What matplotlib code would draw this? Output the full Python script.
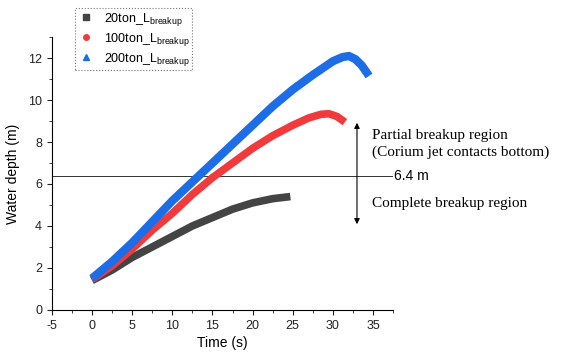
import matplotlib
matplotlib.use('Agg')
import matplotlib.pyplot as plt
from matplotlib.lines import Line2D
from matplotlib.ticker import MultipleLocator

# values
t_20 = [0, 2.5, 5, 7.5, 10, 12.5, 15, 17.5, 20, 22.5, 24.7]
d_20 = [1.4, 1.9, 2.5, 3.0, 3.5, 4.0, 4.4, 4.8, 5.1, 5.3, 5.4]

t_100 = [0, 2.5, 5, 7.5, 10, 12.5, 15, 17.5, 20, 22.5, 25, 27, 28.5, 29.5, 30.5, 31.5]
d_100 = [1.45, 2.1, 2.9, 3.8, 4.6, 5.5, 6.3, 7.0, 7.7, 8.3, 8.8, 9.15, 9.32, 9.35, 9.22, 8.95]

t_200 = [0, 2.5, 5, 7.5, 10, 12.5, 15, 17.5, 20, 22.5, 25, 27.5, 30, 31.2, 32, 32.8, 33.6, 34.5]
d_200 = [1.5, 2.3, 3.2, 4.2, 5.2, 6.1, 7.0, 7.9, 8.8, 9.7, 10.5, 11.2, 11.85, 12.05, 12.1, 11.95, 11.65, 11.15]

labels = ['20ton_L$_{\\mathregular{breakup}}$', '100ton_L$_{\\mathregular{breakup}}$',
          '200ton_L$_{\\mathregular{breakup}}$']
limit = 6.4

plt.rcParams['font.family'] = 'Liberation Sans'
plt.rcParams['axes.unicode_minus'] = False

fig = plt.figure(figsize=(5.64, 3.57), dpi=100)
ax = fig.add_axes([0.092, 0.132, 0.605, 0.764])

ax.axhline(limit, color='#333333', lw=0.7, zorder=1)
ax.plot(t_20, d_20, color='#444444', lw=5.5, solid_capstyle='butt', zorder=2)
ax.plot(t_100, d_100, color='#f03a3c', lw=5.5, solid_capstyle='butt', zorder=3)
ax.plot(t_200, d_200, color='#1c6de6', lw=6, solid_capstyle='butt', zorder=4)

ax.annotate('', xy=(33, 3.95), xytext=(33, 9.05),
            arrowprops=dict(arrowstyle='<|-|>', color='black', lw=0.8,
                            mutation_scale=8))
serif = 'Liberation Serif'
ax.text(34.9, 8.33, 'Partial breakup region', family=serif, fontsize=11, va='center')
ax.text(34.9, 7.5, '(Corium jet contacts bottom)', family=serif, fontsize=11, va='center')
ax.text(37.6, limit, '6.4 m', fontsize=10, va='center')
ax.text(34.9, 5.05, 'Complete breakup region', family=serif, fontsize=11, va='center')

ax.set_xlim(-5, 37.5)
ax.set_ylim(0, 13)
ax.xaxis.set_major_locator(MultipleLocator(5))
ax.xaxis.set_minor_locator(MultipleLocator(2.5))
ax.yaxis.set_major_locator(MultipleLocator(2))
ax.yaxis.set_minor_locator(MultipleLocator(1))
ax.spines['top'].set_visible(False)
ax.spines['right'].set_visible(False)
ax.tick_params(which='both', direction='out', labelsize=9, colors='#222222')
ax.tick_params(which='major', length=3.5)
ax.tick_params(which='minor', length=2)
ax.set_xlabel('Time (s)', fontsize=10, labelpad=3)
ax.set_ylabel('Water depth (m)', fontsize=10, labelpad=6)

handles = [Line2D([], [], ls='none', marker='s', color='#444444', markersize=4),
           Line2D([], [], ls='none', marker='o', color='#f03a3c', markersize=4),
           Line2D([], [], ls='none', marker='^', color='#1c6de6', markersize=5)]
leg = fig.legend(handles, labels, loc='upper left', bbox_to_anchor=(0.122, 0.995),
                 fontsize=9, frameon=True, fancybox=False, handlelength=1.3,
                 borderpad=0.2, labelspacing=0.25, handletextpad=0.8)
leg.get_frame().set_edgecolor('#555555')
leg.get_frame().set_linestyle(':')
leg.get_frame().set_linewidth(0.8)

fig.savefig('out.png', dpi=100)
